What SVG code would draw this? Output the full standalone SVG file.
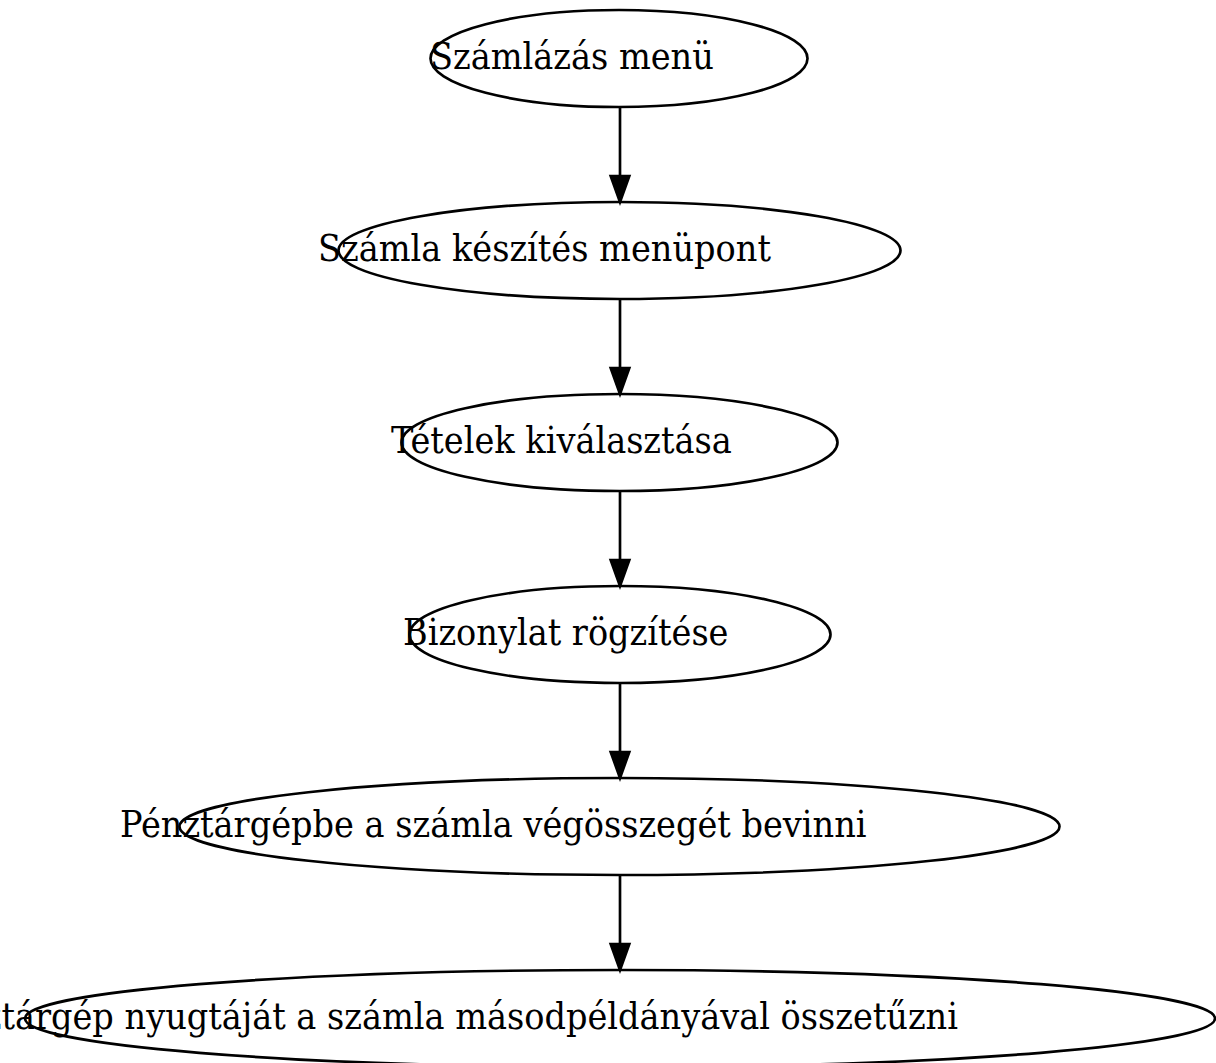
<svg xmlns="http://www.w3.org/2000/svg" width="1216" height="1063" viewBox="0 0 1216 1063">
<style>
.node ellipse{fill:none;stroke:#000;stroke-width:2.67}
.node text{font-family:"DejaVu Serif Condensed","DejaVu Serif",serif;font-stretch:condensed;font-size:37.33px;fill:#000}
.edge line{stroke:#000;stroke-width:2.67}
.edge polygon{fill:#000;stroke:#000;stroke-width:2.67}
</style>
<rect width="1216" height="1063" fill="#fff"/>
<g id="edges" class="edge">
<line x1="620" y1="107" x2="620" y2="176"/><polygon points="610.7,176 629.3,176 620,202"/>
<line x1="620" y1="299" x2="620" y2="368"/><polygon points="610.7,368 629.3,368 620,394"/>
<line x1="620" y1="491" x2="620" y2="560"/><polygon points="610.7,560 629.3,560 620,586"/>
<line x1="620" y1="683" x2="620" y2="752"/><polygon points="610.7,752 629.3,752 620,778"/>
<line x1="620" y1="875" x2="620" y2="944"/><polygon points="610.7,944 629.3,944 620,970"/>
</g>
<g id="n1" class="node"><ellipse cx="619" cy="58.5" rx="188.5" ry="48.5"/><text x="430" y="68.5">Számlázás menü</text></g>
<g id="n2" class="node"><ellipse cx="619.5" cy="250.5" rx="281" ry="48.5"/><text x="318" y="260.5">Számla készítés menüpont</text></g>
<g id="n3" class="node"><ellipse cx="619.5" cy="442.5" rx="218" ry="48.5"/><text x="391" y="452.5">Tételek kiválasztása</text></g>
<g id="n4" class="node"><ellipse cx="620" cy="634.5" rx="210.5" ry="48.5"/><text x="403" y="644.5">Bizonylat rögzítése</text></g>
<g id="n5" class="node"><ellipse cx="619.5" cy="826.5" rx="440" ry="48.5"/><text x="120" y="836.5">Pénztárgépbe a számla végösszegét bevinni</text></g>
<g id="n6" class="node"><ellipse cx="620" cy="1018.5" rx="595" ry="48.5"/><text x="958" y="1028.5" text-anchor="end">Pénztárgép nyugtáját a számla másodpéldányával összetűzni</text></g>
</svg>
